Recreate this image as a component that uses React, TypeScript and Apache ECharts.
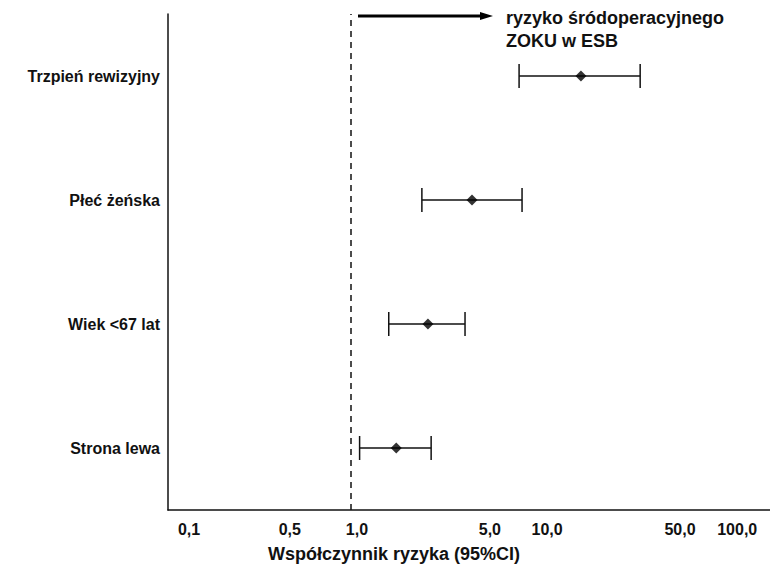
import React, { useEffect, useRef } from "react";
import * as echarts from "echarts";

const categories = ["Strona lewa", "Wiek <67 lat", "Płeć żeńska", "Trzpień rewizyjny"];
const pointValues = [1.73, 2.54, 4.33, 16.2];
const lowerCI = [1.11, 1.58, 2.36, 7.66];
const upperCI = [2.64, 3.98, 7.94, 33.2];
const xTickValues = [0.1, 0.5, 1, 5, 10, 50, 100];
const axisMin = 0.109;
const axisMax = 160;
const referenceValue = 1;
const xTitle = "Współczynnik ryzyka (95%CI)";
const noteLines = ["ryzyko śródoperacyjnego", "ZOKU w ESB"];

const FONT = "'Liberation Sans', Arial, sans-serif";

export default function App() {
  const ref = useRef<HTMLDivElement>(null);
  useEffect(() => {
    if (!ref.current) return;
    const chart = echarts.init(ref.current, null, { renderer: "svg" });
    const errData = categories.map((c, i) => [lowerCI[i], upperCI[i], i]);
    const ptData = categories.map((c, i) => [pointValues[i], i]);
    const labelStyle = { fontFamily: FONT, fontWeight: "bold", fontSize: 16, color: "#111" };
    const tickPositions = xTickValues.map((v) => Math.max(v, axisMin));
    chart.setOption({
      animation: false,
      backgroundColor: "#fff",
      grid: { left: 168, right: 0, top: 14, bottom: 59 },
      xAxis: {
        type: "log",
        logBase: 10,
        min: axisMin,
        max: axisMax,
        name: xTitle,
        nameLocation: "middle",
        nameGap: 35,
        nameTextStyle: {
          fontFamily: FONT,
          fontWeight: "bold",
          fontSize: 18,
          color: "#111",
          padding: [0, 150, 0, 0],
        },
        axisLine: { show: true, onZero: false, lineStyle: { color: "#111", width: 1.5 } },
        axisTick: { show: false },
        splitLine: { show: false },
        minorSplitLine: { show: false },
        axisLabel: {
          customValues: tickPositions,
          formatter: (v: number) => {
            const t = v.toFixed(1).replace(".", ",");
            if (v < 0.2) return "{l|" + t + "}";
            if (v < 0.8) return "{r|" + t + "}";
            return "{n|" + t + "}";
          },
          ...labelStyle,
          margin: 11,
          rich: {
            l: { ...labelStyle, padding: [0, 0, 0, 42] },
            r: { ...labelStyle, padding: [0, 8, 0, 0] },
            n: { ...labelStyle, padding: [0, 0, 0, 12] },
          },
        },
      },
      yAxis: {
        type: "category",
        data: categories,
        axisLine: { show: true, lineStyle: { color: "#111", width: 1.5 } },
        axisTick: { show: false },
        splitLine: { show: false },
        axisLabel: { ...labelStyle, margin: 8 },
      },
      series: [
        {
          type: "custom",
          data: errData,
          encode: { x: [0, 1], y: 2 },
          renderItem: (params: any, api: any) => {
            const yi = api.value(2);
            const p1 = api.coord([api.value(0), yi]);
            const p2 = api.coord([api.value(1), yi]);
            const h = 12;
            const st = { stroke: "#111", lineWidth: 1.5 };
            return {
              type: "group",
              children: [
                { type: "line", shape: { x1: p1[0], y1: p1[1], x2: p2[0], y2: p2[1] }, style: st },
                { type: "line", shape: { x1: p1[0], y1: p1[1] - h, x2: p1[0], y2: p1[1] + h }, style: st },
                { type: "line", shape: { x1: p2[0], y1: p2[1] - h, x2: p2[0], y2: p2[1] + h }, style: st },
              ],
            };
          },
          z: 2,
        },
        {
          type: "scatter",
          data: ptData,
          symbol: "diamond",
          symbolSize: 11,
          itemStyle: { color: "#000" },
          z: 3,
          markLine: {
            silent: true,
            symbol: "none",
            label: { show: false },
            lineStyle: { color: "#111", type: [6, 5], width: 1.5 },
            data: [{ xAxis: referenceValue }],
          },
        },
      ],
      graphic: [
        {
          type: "line",
          shape: { x1: 358, y1: 16, x2: 482, y2: 16 },
          style: { stroke: "#000", lineWidth: 3 },
        },
        {
          type: "polygon",
          shape: { points: [[480, 12], [493, 16], [480, 20]] },
          style: { fill: "#000" },
        },
        {
          type: "text",
          x: 506,
          y: 18,
          style: {
            text: noteLines[0],
            fontFamily: FONT,
            fontWeight: "bold",
            fontSize: 18,
            fill: "#111",
            verticalAlign: "middle",
          },
        },
        {
          type: "text",
          x: 506,
          y: 41,
          style: {
            text: noteLines[1],
            fontFamily: FONT,
            fontWeight: "bold",
            fontSize: 18,
            fill: "#111",
            verticalAlign: "middle",
          },
        },
      ],
    });
    return () => chart.dispose();
  }, []);
  return (
    <div
      ref={ref}
      style={{ position: "fixed", left: 0, top: 0, width: 770, height: 569, background: "#fff" }}
    />
  );
}
